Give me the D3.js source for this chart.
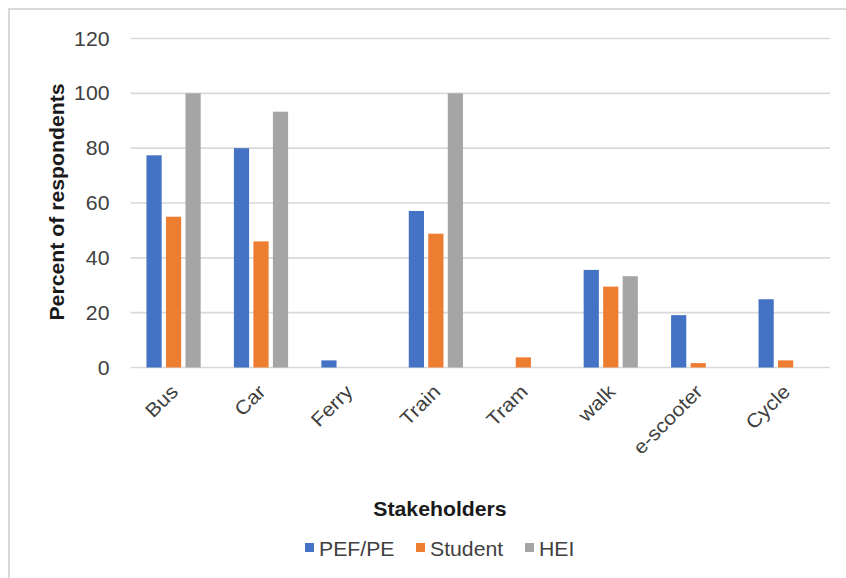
<!DOCTYPE html>
<html>
<head>
<meta charset="utf-8">
<script src="https://cdn.jsdelivr.net/npm/d3@7"></script>
<style>
  html, body { margin: 0; padding: 0; background: #fff; }
  svg { display: block; font-family: "Liberation Sans", Arial, sans-serif; }
</style>
</head>
<body>
<svg id="chart" width="846" height="578"></svg>
<script>
// Travel modes and share of respondents (%) per stakeholder group
const categories = ["Bus", "Car", "Ferry", "Train", "Tram", "walk", "e-scooter", "Cycle"];
const seriesNames = ["PEF/PE", "Student", "HEI"];
const pefPe   = [77.4, 80, 2.6, 57.1, 0, 35.6, 19.1, 24.9];
const student = [55, 46, 0, 48.8, 3.7, 29.5, 1.6, 2.6];
const hei     = [100, 93.3, 0, 100, 0, 33.3, 0, 0];
const yTicks  = [0, 20, 40, 60, 80, 100, 120];
const colors  = ["#4472C4", "#ED7D31", "#A5A5A5"];

const seriesValues = [pefPe, student, hei];
const rows = categories.map((c, i) => ({
  category: c,
  values: seriesNames.map((s, j) => ({ series: s, value: seriesValues[j][i] }))
}));

const svg = d3.select("#chart");
const W = 846, H = 578;
const plot = { left: 130.5, right: 830, top: 38.5, bottom: 367.5 };
const FS = 19.5;          // base font size
const STRETCH = 1.09;     // horizontal glyph widening along the text direction

// chart area frame (left and top edges)
svg.append("path")
  .attr("d", `M9,${H} L9,9 L${W},9`)
  .attr("fill", "none")
  .attr("stroke", "#d9d9d9")
  .attr("stroke-width", 2);

const x0 = d3.scaleBand()
  .domain(categories)
  .range([plot.left, plot.right])
  .paddingInner(0.331)
  .paddingOuter(0.1655);

const x1 = d3.scaleBand()
  .domain(seriesNames)
  .range([0, x0.bandwidth()]);

const y = d3.scaleLinear()
  .domain([0, 120])
  .range([plot.bottom, plot.top]);

const color = d3.scaleOrdinal().domain(seriesNames).range(colors);

// horizontal gridlines
svg.append("g")
  .selectAll("line")
  .data(yTicks)
  .join("line")
  .attr("x1", plot.left)
  .attr("x2", plot.right)
  .attr("y1", d => y(d))
  .attr("y2", d => y(d))
  .attr("stroke", "#d9d9d9")
  .attr("stroke-width", 1.6);

// y tick labels via d3 axis, restyled
const yAxis = svg.append("g")
  .attr("transform", `translate(${plot.left - 21},0)`)
  .call(d3.axisLeft(y).tickValues(yTicks).tickSize(0).tickPadding(0));
yAxis.select(".domain").remove();
yAxis.selectAll(".tick text")
  .attr("x", 0)
  .attr("dy", null)
  .attr("y", 6.5)
  .attr("fill", "#404040")
  .style("font-size", FS + "px")
  .style("font-family", "'Liberation Sans', Arial, sans-serif")
  .attr("text-anchor", "end")
  .attr("transform", `scale(${STRETCH},1)`);

// bars
const barInset = 2;
const groups = svg.append("g")
  .selectAll("g")
  .data(rows)
  .join("g")
  .attr("transform", d => `translate(${x0(d.category)},0)`);

groups.selectAll("rect")
  .data(d => d.values.filter(v => v.value > 0))
  .join("rect")
  .attr("x", d => x1(d.series) + barInset - 0.5)
  .attr("width", x1.bandwidth() - barInset * 2 - 0.3)
  .attr("y", d => y(d.value))
  .attr("height", d => y(0) - y(d.value))
  .attr("fill", d => color(d.series));

// category labels, rotated
svg.append("g")
  .selectAll("text")
  .data(categories)
  .join("text")
  .attr("transform", d => `translate(${x0(d) + x0.bandwidth() / 2 + 5},393) rotate(-45) scale(${STRETCH},1)`)
  .attr("text-anchor", "end")
  .attr("fill", "#404040")
  .style("font-size", FS + "px")
  .text(d => d);

// y axis title
svg.append("text")
  .attr("transform", `translate(63.5,202) rotate(-90) scale(${STRETCH},1)`)
  .attr("text-anchor", "middle")
  .attr("font-weight", "bold")
  .attr("fill", "#1a1a1a")
  .style("font-size", FS + "px")
  .text("Percent of respondents");

// x axis title
svg.append("text")
  .attr("transform", `translate(440,516) scale(${STRETCH},1)`)
  .attr("text-anchor", "middle")
  .attr("font-weight", "bold")
  .attr("fill", "#1a1a1a")
  .style("font-size", FS + "px")
  .text("Stakeholders");

// legend
const legendX = [305, 416, 525];
const legend = svg.append("g")
  .selectAll("g")
  .data(seriesNames)
  .join("g")
  .attr("transform", (d, i) => `translate(${legendX[i]},0)`);
legend.append("rect")
  .attr("x", 0)
  .attr("y", 543)
  .attr("width", 9)
  .attr("height", 9)
  .attr("fill", d => color(d));
legend.append("text")
  .attr("transform", `translate(14,555.5) scale(${STRETCH},1)`)
  .attr("fill", "#404040")
  .style("font-size", FS + "px")
  .text(d => d);
</script>
</body>
</html>
